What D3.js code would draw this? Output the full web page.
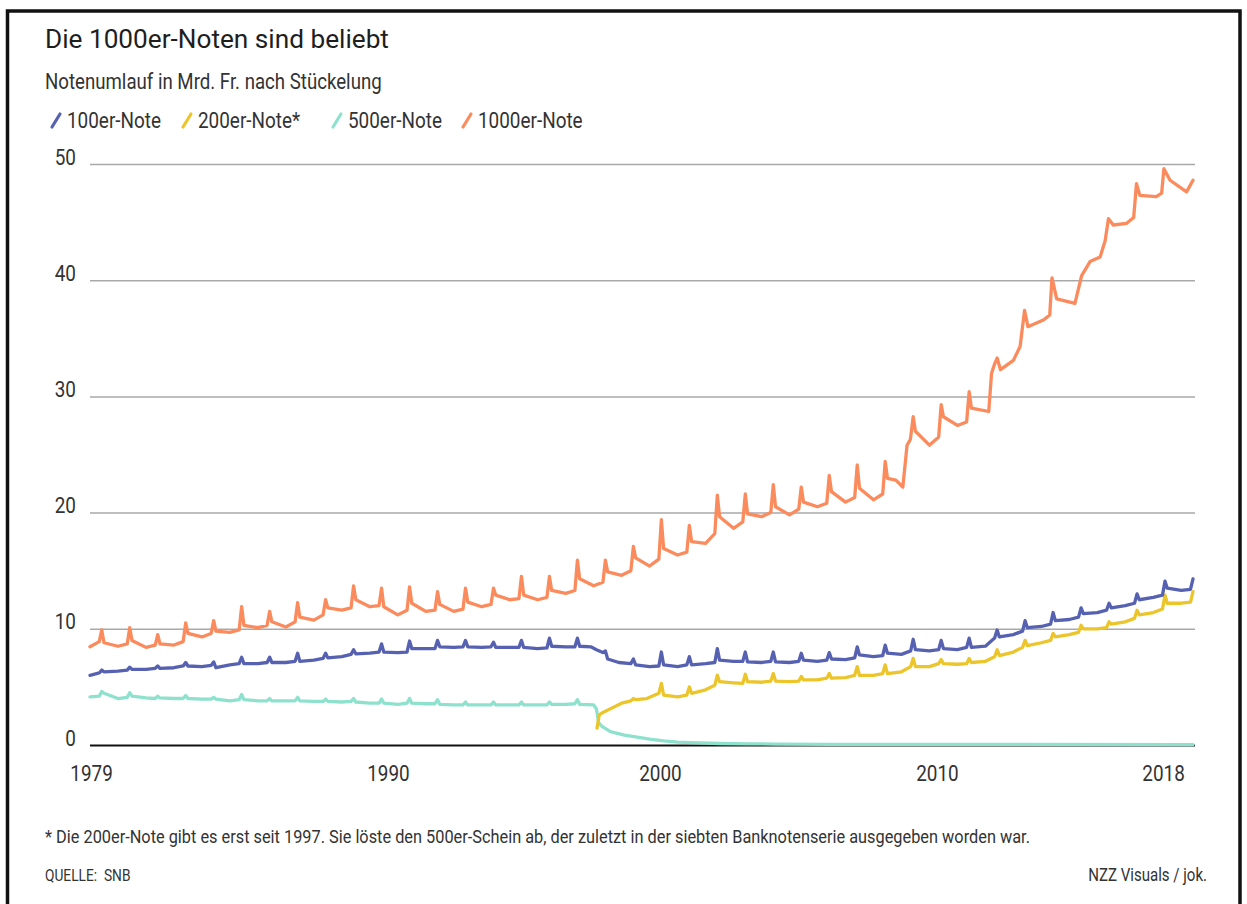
<!DOCTYPE html>
<html><head><meta charset="utf-8">
<script src="https://cdn.jsdelivr.net/npm/d3@7/dist/d3.min.js"></script>
<style>
html,body{margin:0;padding:0;background:#fff;}
text{font-family:Roboto,"Noto Sans",sans-serif;}
</style></head>
<body><svg id="chart" width="1247" height="904"></svg>
<script>
// ---- data: banknotes in circulation, bn CHF (time in decimal years) ----
const seriesNames = ["100er-Note","200er-Note*","500er-Note","1000er-Note"];
const seriesColors = ["#5662b1","#ecc52a","#8ee2cd","#fb8b5d"];
const yTicks = [0,10,20,30,40,50];
const xTickDates = [1979.54,1990.15,1999.87,2009.77,2017.85];
const xTickLabels = ["1979","1990","2000","2010","2018"];

const note100 = [[1979.5,6.0],[1979.83,6.2],[1979.92,6.45],
[1980.0,6.3],[1980.5,6.35],[1980.83,6.45],[1980.92,6.7],
[1981.0,6.5],[1981.5,6.5],[1981.83,6.6],[1981.92,6.8],
[1982.0,6.6],[1982.5,6.65],[1982.83,6.8],[1982.92,7.1],
[1983.0,6.8],[1983.5,6.75],[1983.83,6.85],[1983.92,7.15],
[1984.0,6.65],[1984.5,6.9],[1984.83,7.0],[1984.92,7.55],
[1985.0,7.0],[1985.5,7.0],[1985.83,7.1],[1985.92,7.55],
[1986.0,7.1],[1986.5,7.1],[1986.83,7.2],[1986.92,7.9],
[1987.0,7.2],[1987.5,7.3],[1987.83,7.45],[1987.92,7.9],
[1988.0,7.5],[1988.5,7.6],[1988.83,7.8],[1988.92,8.2],
[1989.0,7.85],[1989.5,7.9],[1989.83,8.0],[1989.92,8.7],
[1990.0,8.0],[1990.5,7.95],[1990.83,8.0],[1990.92,8.95],
[1991.0,8.3],[1991.5,8.3],[1991.83,8.3],[1991.92,9.0],
[1992.0,8.45],[1992.5,8.4],[1992.83,8.45],[1992.92,9.0],
[1993.0,8.45],[1993.5,8.4],[1993.83,8.45],[1993.92,8.85],
[1994.0,8.4],[1994.5,8.4],[1994.83,8.4],[1994.92,9.0],
[1995.0,8.4],[1995.5,8.3],[1995.83,8.35],[1995.92,9.2],
[1996.0,8.5],[1996.5,8.45],[1996.83,8.45],[1996.92,9.2],
[1997.0,8.5],[1997.4,8.45],[1997.6,8.2],[1997.83,7.95],[1997.92,8.1],
[1998.0,7.4],[1998.4,7.1],[1998.83,7.0],[1998.92,7.4],
[1999.0,6.9],[1999.5,6.75],[1999.83,6.8],[1999.92,8.0],
[2000.0,6.9],[2000.5,6.75],[2000.83,6.9],[2000.92,7.6],
[2001.0,6.9],[2001.5,7.0],[2001.83,7.1],[2001.92,8.3],
[2002.0,7.3],[2002.5,7.2],[2002.83,7.2],[2002.92,8.0],
[2003.0,7.15],[2003.5,7.1],[2003.83,7.2],[2003.92,8.0],
[2004.0,7.15],[2004.5,7.1],[2004.83,7.2],[2004.92,7.9],
[2005.0,7.3],[2005.5,7.2],[2005.83,7.3],[2005.92,7.95],
[2006.0,7.4],[2006.5,7.35],[2006.83,7.5],[2006.92,8.45],
[2007.0,7.75],[2007.5,7.6],[2007.83,7.7],[2007.92,8.6],
[2008.0,7.9],[2008.5,7.8],[2008.83,8.1],[2008.92,9.1],
[2009.0,8.2],[2009.5,8.1],[2009.83,8.2],[2009.92,9.0],
[2010.0,8.3],[2010.5,8.2],[2010.83,8.4],[2010.92,9.2],
[2011.0,8.4],[2011.5,8.5],[2011.83,9.2],[2011.92,9.9],
[2012.0,9.3],[2012.5,9.5],[2012.83,9.8],[2012.92,10.7],
[2013.0,10.1],[2013.5,10.2],[2013.83,10.4],[2013.92,11.4],
[2014.0,10.7],[2014.5,10.8],[2014.83,11.0],[2014.92,11.8],
[2015.0,11.3],[2015.5,11.4],[2015.83,11.6],[2015.92,12.2],
[2016.0,11.8],[2016.5,12.0],[2016.83,12.2],[2016.92,13.0],
[2017.0,12.5],[2017.5,12.7],[2017.83,12.9],[2017.92,14.1],
[2018.0,13.5],[2018.5,13.3],[2018.83,13.4],[2018.92,14.3]];

const note200 = [[1997.62,1.45],[1997.7,2.6],[1997.83,2.8],[1997.92,2.9],
[1998.0,3.0],[1998.5,3.6],[1998.83,3.8],[1998.92,4.0],
[1999.0,3.9],[1999.4,4.0],[1999.83,4.45],[1999.92,5.3],
[2000.0,4.3],[2000.5,4.15],[2000.83,4.3],[2000.92,5.0],
[2001.0,4.45],[2001.5,4.75],[2001.83,5.15],[2001.92,6.0],
[2002.0,5.45],[2002.5,5.35],[2002.83,5.3],[2002.92,6.1],
[2003.0,5.45],[2003.5,5.4],[2003.83,5.5],[2003.92,6.15],
[2004.0,5.5],[2004.5,5.45],[2004.83,5.5],[2004.92,5.9],
[2005.0,5.6],[2005.5,5.6],[2005.83,5.75],[2005.92,6.15],
[2006.0,5.75],[2006.5,5.8],[2006.83,6.0],[2006.92,6.75],
[2007.0,6.0],[2007.5,6.0],[2007.83,6.15],[2007.92,6.9],
[2008.0,6.15],[2008.5,6.3],[2008.83,6.75],[2008.92,7.45],
[2009.0,6.75],[2009.5,6.75],[2009.83,7.0],[2009.92,7.35],
[2010.0,7.0],[2010.5,6.95],[2010.83,7.0],[2010.92,7.45],
[2011.0,7.1],[2011.5,7.2],[2011.83,7.6],[2011.92,8.2],
[2012.0,7.7],[2012.5,8.0],[2012.83,8.4],[2012.92,9.0],
[2013.0,8.55],[2013.5,8.8],[2013.83,9.0],[2013.92,9.6],
[2014.0,9.3],[2014.5,9.5],[2014.83,9.7],[2014.92,10.3],
[2015.0,10.0],[2015.5,10.0],[2015.83,10.1],[2015.92,10.6],
[2016.0,10.4],[2016.5,10.6],[2016.83,10.9],[2016.92,11.6],
[2017.0,11.2],[2017.5,11.4],[2017.83,11.7],[2017.92,12.9],
[2018.0,12.2],[2018.5,12.2],[2018.83,12.3],[2018.92,13.2]];

const note500 = [[1979.5,4.15],[1979.83,4.2],[1979.92,4.6],
[1980.0,4.45],[1980.5,4.0],[1980.83,4.1],[1980.92,4.5],
[1981.0,4.2],[1981.5,4.05],[1981.83,4.0],[1981.92,4.2],
[1982.0,4.05],[1982.5,4.0],[1982.83,4.0],[1982.92,4.25],
[1983.0,4.0],[1983.5,3.95],[1983.83,3.95],[1983.92,4.1],
[1984.0,3.95],[1984.5,3.8],[1984.83,3.9],[1984.92,4.35],
[1985.0,3.9],[1985.5,3.8],[1985.83,3.8],[1985.92,4.0],
[1986.0,3.8],[1986.5,3.8],[1986.83,3.8],[1986.92,4.1],
[1987.0,3.8],[1987.5,3.75],[1987.83,3.75],[1987.92,3.95],
[1988.0,3.75],[1988.5,3.7],[1988.83,3.75],[1988.92,4.0],
[1989.0,3.7],[1989.5,3.6],[1989.83,3.6],[1989.92,3.95],
[1990.0,3.6],[1990.5,3.5],[1990.83,3.6],[1990.92,4.0],
[1991.0,3.6],[1991.5,3.55],[1991.83,3.55],[1991.92,3.9],
[1992.0,3.5],[1992.5,3.45],[1992.83,3.45],[1992.92,3.7],
[1993.0,3.45],[1993.5,3.45],[1993.83,3.45],[1993.92,3.7],
[1994.0,3.45],[1994.5,3.45],[1994.83,3.45],[1994.92,3.7],
[1995.0,3.45],[1995.5,3.45],[1995.83,3.45],[1995.92,3.7],
[1996.0,3.5],[1996.5,3.5],[1996.83,3.55],[1996.92,3.9],
[1997.0,3.5],[1997.5,3.45],[1997.6,3.1],[1997.68,1.9],[1997.8,1.6],
[1998.1,1.15],[1998.6,0.85],[1999.0,0.7],[1999.5,0.5],[2000.0,0.35],
[2000.5,0.25],[2001.0,0.2],[2002.0,0.13],[2003.0,0.1],[2004.0,0.08],
[2006.0,0.06],[2010.0,0.05],[2018.92,0.04]];

const note1000 = [[1979.5,8.46],[1979.83,8.9],[1979.92,9.9],
[1980.0,8.8],[1980.5,8.5],[1980.83,8.7],[1980.92,10.1],
[1981.0,9.0],[1981.5,8.4],[1981.83,8.6],[1981.92,9.5],
[1982.0,8.7],[1982.5,8.6],[1982.83,8.9],[1982.92,10.5],
[1983.0,9.6],[1983.5,9.3],[1983.83,9.6],[1983.92,10.7],
[1984.0,9.8],[1984.5,9.7],[1984.83,9.9],[1984.92,11.9],
[1985.0,10.3],[1985.5,10.1],[1985.83,10.3],[1985.92,11.5],
[1986.0,10.6],[1986.5,10.15],[1986.83,10.6],[1986.92,12.25],
[1987.0,11.0],[1987.5,10.75],[1987.83,11.2],[1987.92,12.5],
[1988.0,11.8],[1988.5,11.6],[1988.83,11.8],[1988.92,13.7],
[1989.0,12.5],[1989.5,11.9],[1989.83,12.0],[1989.92,13.5],
[1990.0,11.9],[1990.5,11.2],[1990.83,11.6],[1990.92,13.6],
[1991.0,12.2],[1991.5,11.5],[1991.83,11.6],[1991.92,13.2],
[1992.0,12.1],[1992.5,11.5],[1992.83,11.7],[1992.92,13.5],
[1993.0,12.3],[1993.5,11.9],[1993.83,12.1],[1993.92,13.5],
[1994.0,12.9],[1994.5,12.5],[1994.83,12.6],[1994.92,14.5],
[1995.0,12.9],[1995.5,12.5],[1995.83,12.7],[1995.92,14.5],
[1996.0,13.3],[1996.5,13.05],[1996.83,13.3],[1996.92,15.9],
[1997.0,14.3],[1997.5,13.7],[1997.83,14.0],[1997.92,15.9],
[1998.0,14.9],[1998.5,14.6],[1998.83,15.0],[1998.92,17.1],
[1999.0,16.1],[1999.5,15.4],[1999.83,16.0],[1999.92,19.4],
[2000.0,16.9],[2000.5,16.35],[2000.83,16.6],[2000.92,18.9],
[2001.0,17.5],[2001.5,17.35],[2001.83,18.2],[2001.92,21.5],
[2002.0,19.65],[2002.5,18.65],[2002.83,19.2],[2002.92,21.6],
[2003.0,19.9],[2003.5,19.65],[2003.83,20.0],[2003.92,22.4],
[2004.0,20.5],[2004.5,19.8],[2004.83,20.3],[2004.92,22.2],
[2005.0,20.9],[2005.5,20.5],[2005.83,20.8],[2005.92,23.2],
[2006.0,21.8],[2006.5,20.9],[2006.83,21.3],[2006.92,24.1],
[2007.0,22.1],[2007.5,21.1],[2007.83,21.6],[2007.92,24.4],
[2008.0,22.95],[2008.3,22.8],[2008.55,22.2],[2008.7,25.8],[2008.82,26.3],[2008.92,28.25],
[2009.0,27.0],[2009.5,25.8],[2009.83,26.5],[2009.92,29.3],
[2010.0,28.25],[2010.5,27.5],[2010.83,27.8],[2010.92,30.4],
[2011.0,29.0],[2011.62,28.7],[2011.72,32.0],[2011.83,32.8],[2011.92,33.3],
[2012.04,32.3],[2012.5,33.1],[2012.74,34.3],[2012.9,37.4],
[2013.02,36.0],[2013.59,36.6],[2013.8,37.0],[2013.88,40.2],
[2014.05,38.4],[2014.7,38.0],[2014.94,40.4],
[2015.24,41.6],[2015.6,42.0],[2015.78,43.4],[2015.9,45.3],
[2016.07,44.75],[2016.55,44.9],[2016.8,45.4],[2016.9,48.3],
[2017.02,47.3],[2017.61,47.2],[2017.8,47.5],[2017.88,49.6],
[2018.1,48.6],[2018.69,47.6],[2018.92,48.6]];

const seriesData = [note500, note200, note100, note1000];
const seriesDrawColors = [seriesColors[2], seriesColors[1], seriesColors[0], seriesColors[3]];

// ---- drawing ----
const K = 0.86; // horizontal squeeze to imitate the condensed typeface
const svg = d3.select("#chart");
const x = d3.scaleLinear().domain([1979.5, 2018.92]).range([90, 1193]);
const y = d3.scaleLinear().domain([0, 50]).range([745, 164]);

function ctext(parent, tx, ty, str, size, anchor){
  return parent.append("text")
    .attr("transform",`translate(${tx},${ty}) scale(${K},1)`)
    .attr("text-anchor",anchor||"start")
    .style("font-size",size+"px").attr("fill","#333").text(str);
}

// frame
svg.append("path").attr("d","M7.5,904V11H1240V904")
  .attr("fill","none").attr("stroke","#111").attr("stroke-width",3.5);

svg.append("text").attr("x",45).attr("y",48)
  .style("font-size","26.2px").style("font-weight","400")
  .attr("fill","#1e1e1e").text("Die 1000er-Noten sind beliebt");

ctext(svg, 45, 89, "Notenumlauf in Mrd. Fr. nach Stückelung", 21.7);

// legend
const legendX = [50, 181, 331, 461];
seriesNames.forEach((n,i)=>{
  const g = svg.append("g").attr("transform",`translate(${legendX[i]},120)`);
  g.append("line").attr("x1",2).attr("y1",7).attr("x2",10).attr("y2",-6)
    .attr("stroke",seriesColors[i]).attr("stroke-width",3.2).attr("stroke-linecap","round");
  ctext(g, 17, 8, n, 22);
});

// grid + y labels
const yAxis = d3.axisLeft(y).tickValues(yTicks).tickSize(-(1195-90)).tickFormat(d3.format("d"));
const ga = svg.append("g").attr("transform","translate(90,0)").call(yAxis);
ga.attr("font-family",null).attr("font-size",null);
ga.select(".domain").remove();
ga.selectAll(".tick line").attr("stroke","#a9a9a9").attr("stroke-width",1.5)
  .filter(d=>d===0).attr("stroke","#111").attr("stroke-width",2.2);
ga.selectAll(".tick text").attr("x",null).attr("dy",null).attr("y",null)
  .attr("transform",`translate(-14,0) scale(${K},1)`)
  .style("font-size","22px").attr("fill","#333");

// x labels
const xAxis = d3.axisBottom(x).tickValues(xTickDates).tickSize(0)
  .tickFormat((d,i)=>xTickLabels[i]);
const gx = svg.append("g").attr("transform","translate(0,745)").call(xAxis);
gx.attr("font-family",null).attr("font-size",null);
gx.select(".domain").remove();
gx.selectAll(".tick text").attr("y",null).attr("dy",null)
  .attr("transform",`translate(0,36) scale(${K},1)`)
  .style("font-size","22px").attr("fill","#333");

// lines
const line = d3.line().x(d=>x(d[0])).y(d=>y(d[1]));
seriesData.forEach((s,i)=>{
  svg.append("path").datum(s).attr("d",line).attr("fill","none")
    .attr("stroke",seriesDrawColors[i]).attr("stroke-width",3.3)
    .attr("stroke-linejoin","round").attr("stroke-linecap","round");
});

// notes
ctext(svg, 45, 843, "* Die 200er-Note gibt es erst seit 1997. Sie löste den 500er-Schein ab, der zuletzt in der siebten Banknotenserie ausgegeben worden war.", 19);
ctext(svg, 45, 881, "QUELLE:  SNB", 16).attr("xml:space","preserve");
ctext(svg, 1207, 881, "NZZ Visuals / jok.", 17.5, "end");
</script></body></html>
